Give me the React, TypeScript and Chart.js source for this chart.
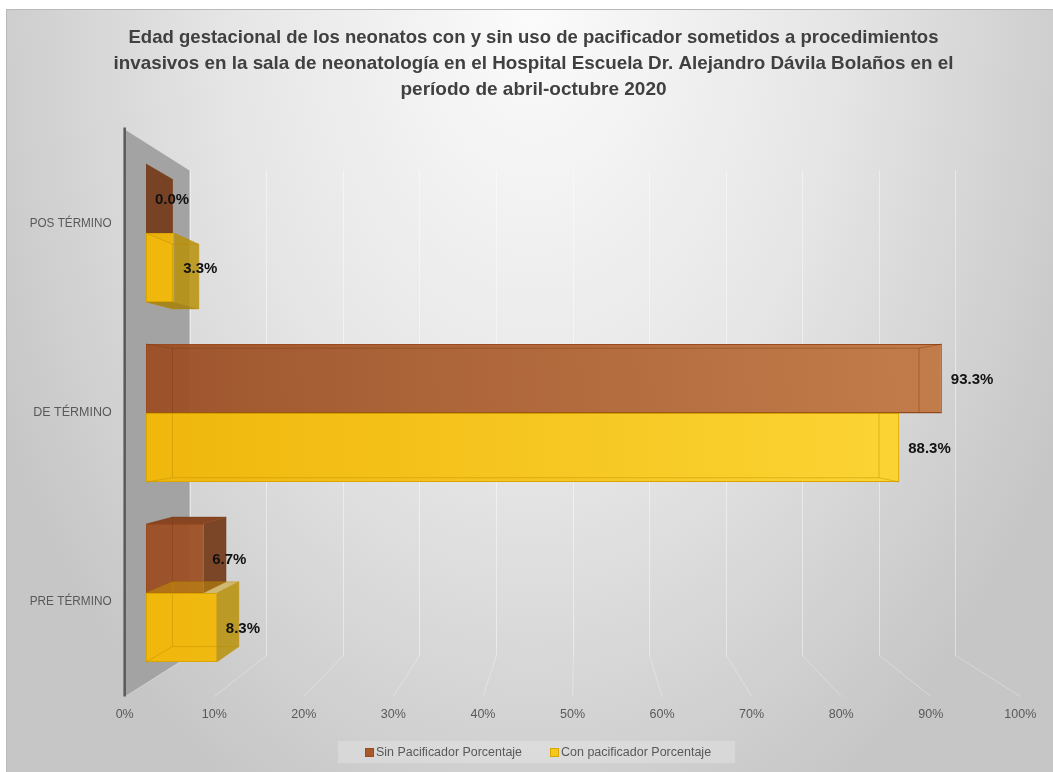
import React, { useEffect, useRef } from 'react';
import { Chart, registerables } from 'chart.js';

Chart.register(...registerables);

// ---------- data ----------
const categories = ['POS TÉRMINO', 'DE TÉRMINO', 'PRE TÉRMINO'];
const sinPacificador = [0.0, 93.3, 6.7];
const conPacificador = [3.3, 88.3, 8.3];
const seriesNames = ['Sin Pacificador Porcentaje', 'Con pacificador Porcentaje'];
const xTickValues = [0, 10, 20, 30, 40, 50, 60, 70, 80, 90, 100];
const xTickLabels = ['0%', '10%', '20%', '30%', '40%', '50%', '60%', '70%', '80%', '90%', '100%'];
const titleLines = [
  'Edad gestacional de los neonatos con y sin uso de pacificador sometidos a procedimientos',
  'invasivos en la sala de neonatología en el Hospital Escuela Dr. Alejandro Dávila Bolaños en el',
  'período de abril-octubre 2020',
];

// ---------- styling ----------
const W = 1047;
const H = 763;
const S_FRONT = 1.05; // floor / wall front edge depth factor
const S_BACK = 0.898; // back wall depth factor
const S_BAR_BACK = 0.938; // bar back face depth factor
const BROWN = { a: 'rgba(155,78,36,0.95)', b: 'rgba(196,122,69,0.95)', border: '#9a4a1c', top: '#874621', side: 'rgba(118,62,30,0.95)', bottom: '#6e3a1a', edge: 'rgba(120,55,15,0.4)' };
const YELLOW = { a: 'rgba(240,183,12,0.95)', b: 'rgba(253,216,56,0.95)', border: '#dba500', top: 'rgba(205,155,0,0.45)', side: 'rgba(185,145,8,0.85)', bottom: 'rgba(165,128,8,0.85)', edge: 'rgba(190,140,0,0.45)' };
const SERIES_STYLE = [BROWN, YELLOW];
const FONT = '"Liberation Sans", Arial, sans-serif';

type Pt = [number, number];

function projector(chart: any) {
  const ca = chart.chartArea;
  const cx = (ca.left + ca.right) / 2;
  const cy = (ca.top + ca.bottom) / 2;
  return {
    cx,
    cy,
    P: (x: number, y: number, s: number): Pt => [cx + (x - cx) * s, cy + (y - cy) * s],
  };
}

function poly(ctx: CanvasRenderingContext2D, pts: Pt[]) {
  ctx.beginPath();
  ctx.moveTo(pts[0][0], pts[0][1]);
  for (let i = 1; i < pts.length; i++) ctx.lineTo(pts[i][0], pts[i][1]);
  ctx.closePath();
}

const scenePlugin = {
  id: 'scene3d',
  beforeDraw(chart: any) {
    const ctx: CanvasRenderingContext2D = chart.ctx;
    ctx.save();
    ctx.translate(527, 0);
    ctx.scale(1, 1.5);
    const g = ctx.createRadialGradient(0, 0, 0, 0, 0, 600);
    g.addColorStop(0, '#fbfbfb');
    g.addColorStop(0.5, '#e6e6e6');
    g.addColorStop(1, '#c6c6c6');
    ctx.fillStyle = g;
    ctx.fillRect(-527, 0, W, H / 1.5 + 2);
    ctx.restore();
    ctx.save();
    ctx.strokeStyle = '#b9b9b9';
    ctx.lineWidth = 1;
    ctx.strokeRect(0.5, 0.5, W, H);
    ctx.restore();
  },
  beforeDatasetsDraw(chart: any) {
    const ctx: CanvasRenderingContext2D = chart.ctx;
    const ca = chart.chartArea;
    const xs = chart.scales.x;
    const { P } = projector(chart);
    ctx.save();
    // back wall gridlines + floor lines
    ctx.lineWidth = 1;
    xTickValues.forEach((v) => {
      const px = xs.getPixelForValue(v);
      const a = P(px, ca.top, S_BACK);
      const b = P(px, ca.bottom, S_BACK);
      const c = P(px, ca.bottom, S_FRONT);
      ctx.strokeStyle = 'rgba(255,255,255,0.45)';
      ctx.beginPath();
      ctx.moveTo(Math.round(a[0]) + 0.5, a[1]);
      ctx.lineTo(Math.round(b[0]) + 0.5, b[1]);
      ctx.stroke();
      ctx.strokeStyle = 'rgba(255,255,255,0.3)';
      ctx.beginPath();
      ctx.moveTo(Math.round(b[0]) + 0.5, b[1]);
      ctx.lineTo(c[0], c[1]);
      ctx.stroke();
    });
    // side wall
    const x0 = xs.getPixelForValue(0);
    const w1 = P(x0, ca.top, S_FRONT);
    const w2 = P(x0, ca.top, S_BACK);
    const w3 = P(x0, ca.bottom, S_BACK);
    const w4 = P(x0, ca.bottom, S_FRONT);
    poly(ctx, [w1, w2, w3, w4]);
    ctx.fillStyle = '#a3a3a3';
    ctx.fill();
    ctx.strokeStyle = '#595959';
    ctx.lineWidth = 2.5;
    ctx.beginPath();
    ctx.moveTo(w1[0], w1[1] - 2);
    ctx.lineTo(w4[0], w4[1]);
    ctx.stroke();
    ctx.restore();
  },
  afterDatasetsDraw(chart: any) {
    const ctx: CanvasRenderingContext2D = chart.ctx;
    const { P, cx, cy } = projector(chart);
    const metas = [chart.getDatasetMeta(0), chart.getDatasetMeta(1)];
    metas.forEach((meta: any, di: number) => {
      const st = SERIES_STYLE[di];
      if (di > 0) {
        meta.data.forEach((el: any) => el.draw(ctx));
      }
      meta.data.forEach((el: any) => {
        const p = el.getProps(['x', 'y', 'base', 'height'], true);
        const x0 = Math.min(p.base, p.x);
        const x1 = Math.max(p.base, p.x);
        const y0 = p.y - p.height / 2;
        const y1 = p.y + p.height / 2;
        const f: Pt[] = [[x0, y0], [x1, y0], [x1, y1], [x0, y1]];
        const b: Pt[] = f.map((q) => P(q[0], q[1], S_BAR_BACK));
        ctx.save();
        ctx.beginPath();
        ctx.rect(0, 0, W, H);
        ctx.rect(x0, y0, Math.max(x1 - x0, 0.01), y1 - y0);
        ctx.clip('evenodd');
        if (y0 > cy) {
          poly(ctx, [f[0], f[1], b[1], b[0]]);
          ctx.fillStyle = st.top;
          ctx.fill();
        }
        if (y1 < cy) {
          poly(ctx, [f[3], f[2], b[2], b[3]]);
          ctx.fillStyle = st.bottom;
          ctx.fill();
        }
        if (x1 < cx) {
          poly(ctx, [f[1], f[2], b[2], b[1]]);
          ctx.fillStyle = st.side;
          ctx.fill();
        }
        ctx.restore();
        // edges
        ctx.save();
        ctx.strokeStyle = st.edge;
        ctx.lineWidth = 1;
        poly(ctx, b);
        ctx.stroke();
        for (let k = 0; k < 4; k++) {
          ctx.beginPath();
          ctx.moveTo(f[k][0], f[k][1]);
          ctx.lineTo(b[k][0], b[k][1]);
          ctx.stroke();
        }
        ctx.restore();
      });
    });
    // value labels
    ctx.save();
    ctx.font = `bold 15px ${FONT}`;
    ctx.fillStyle = '#111111';
    ctx.textAlign = 'left';
    ctx.textBaseline = 'middle';
    metas.forEach((meta: any, di: number) => {
      const values = chart.data.datasets[di].data as number[];
      meta.data.forEach((el: any, i: number) => {
        const p = el.getProps(['x', 'y', 'base'], true);
        const x1 = Math.max(p.base, p.x);
        ctx.fillText(`${values[i].toFixed(1)}%`, x1 + 9, p.y + 1);
      });
    });
    ctx.restore();
  },
  afterDraw(chart: any) {
    const ctx: CanvasRenderingContext2D = chart.ctx;
    const ca = chart.chartArea;
    const xs = chart.scales.x;
    const ys = chart.scales.y;
    const { P } = projector(chart);
    ctx.save();
    // title
    ctx.fillStyle = '#404040';
    ctx.font = `bold 19px ${FONT}`;
    ctx.textAlign = 'center';
    ctx.textBaseline = 'middle';
    const tw = [810, 840, 268];
    titleLines.forEach((line, i) => {
      ctx.fillText(line, 527.5, 29 + i * 26, tw[i]);
    });
    // x tick labels at floor front edge
    ctx.fillStyle = '#595959';
    ctx.font = `12.5px ${FONT}`;
    xTickValues.forEach((v, i) => {
      const q = P(xs.getPixelForValue(v), ca.bottom, S_FRONT);
      ctx.fillText(xTickLabels[i], q[0], q[1] + 18);
    });
    // category labels at wall front
    ctx.textAlign = 'right';
    const wallX = P(xs.getPixelForValue(0), ca.top, S_FRONT)[0];
    categories.forEach((c, i) => {
      const q = P(xs.getPixelForValue(0), ys.getPixelForValue(i), S_FRONT);
      ctx.fillText(c, wallX - 13, q[1], 82);
    });
    // legend
    ctx.fillStyle = 'rgba(255,255,255,0.22)';
    ctx.fillRect(332, 732, 397, 22);
    const items = [
      { x: 359, tx: 370, w: 146 },
      { x: 544, tx: 555, w: 152 },
    ];
    ctx.textAlign = 'left';
    ctx.textBaseline = 'middle';
    seriesNames.forEach((name, i) => {
      const st = SERIES_STYLE[i];
      ctx.fillStyle = i === 0 ? '#a9592c' : '#f7c81c';
      ctx.fillRect(items[i].x, 739, 9, 9);
      ctx.strokeStyle = st.border;
      ctx.lineWidth = 1;
      ctx.strokeRect(items[i].x + 0.5, 739.5, 8, 8);
      ctx.fillStyle = '#595959';
      ctx.font = `12.5px ${FONT}`;
      ctx.fillText(name, items[i].tx, 743.5, items[i].w);
    });
    ctx.restore();
  },
};

function gradientFor(st: typeof BROWN) {
  return (c: any) => {
    const chart = c.chart;
    const ca = chart.chartArea;
    if (!ca) return st.a;
    const g = chart.ctx.createLinearGradient(ca.left, 0, ca.right, 0);
    g.addColorStop(0, st.a);
    g.addColorStop(1, st.b);
    return g;
  };
}

export default function App() {
  const ref = useRef<HTMLCanvasElement | null>(null);
  useEffect(() => {
    if (!ref.current) return;
    const chart = new Chart(ref.current, {
      type: 'bar',
      data: {
        labels: categories,
        datasets: [
          {
            label: seriesNames[0],
            data: sinPacificador,
            backgroundColor: gradientFor(BROWN),
            borderColor: BROWN.border,
            borderWidth: 1,
            borderSkipped: false,
          },
          {
            label: seriesNames[1],
            data: conPacificador,
            backgroundColor: gradientFor(YELLOW),
            borderColor: YELLOW.border,
            borderWidth: 1,
            borderSkipped: false,
          },
        ],
      },
      options: {
        indexAxis: 'y',
        responsive: false,
        animation: false,
        events: [],
        layout: { padding: { left: 140, right: 54, top: 134, bottom: 89 } },
        datasets: { bar: { categoryPercentage: 0.767, barPercentage: 1 } },
        scales: {
          x: { type: 'linear', min: 0, max: 100, display: false },
          y: { type: 'category', display: false },
        },
        plugins: {
          legend: { display: false },
          title: { display: false },
          tooltip: { enabled: false },
        },
      },
      plugins: [scenePlugin],
    });
    return () => chart.destroy();
  }, []);
  return (
    <div style={{ position: 'fixed', left: 6, top: 9, width: W, height: H, overflow: 'hidden' }}>
      <canvas ref={ref} width={W} height={H} style={{ display: 'block', width: W, height: H }} />
    </div>
  );
}
